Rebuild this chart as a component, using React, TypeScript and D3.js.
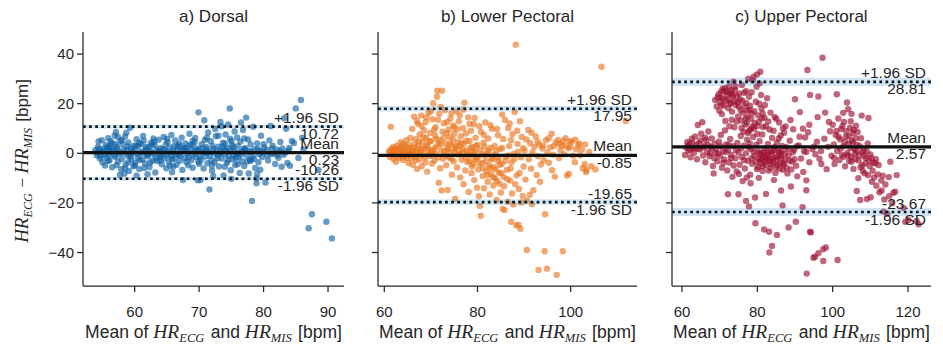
import React from "react";
import * as d3 from "d3";

// [mean of HR_ECG and HR_MIS, HR_ECG - HR_MIS]
const dorsal: [number, number][] = [
  [53.9,1.2],[54.1,-0.8],[54.3,2.6],[54.4,4.8],[54.6,-2.1],[54.8,0.4],[54.9,5.3],
  [55.0,-3.6],[55.2,1.8],[55.3,-0.5],[55.5,3.4],[55.6,-1.7],[55.8,0.9],[55.9,6.1],[55.4,-4.9],
  [56.0,2.2],[56.1,-2.8],[56.3,0.3],[56.4,4.1],[56.5,-5.6],[56.7,1.5],[56.8,-0.9],[56.9,7.2],[56.2,3.0],
  [57.0,-1.4],[57.1,8.6],[57.2,2.7],[57.4,-3.3],[57.5,0.6],[57.7,-8.7],[57.8,5.0],[57.9,-6.4],[57.3,1.9],
  [58.0,-2.3],[58.1,3.6],[58.2,0.1],[58.4,-8.2],[58.5,6.8],[58.6,-4.5],[58.7,8.3],[58.8,1.2],[58.9,-1.0],
  [59.0,4.4],[59.1,-7.1],[59.3,10.3],[59.4,2.0],[59.5,-2.6],[59.6,0.7],[59.8,-5.2],[59.9,3.1],[59.2,-0.4],
  [60.0,1.6],[60.1,-3.9],[60.3,5.7],[60.4,-0.2],[60.6,2.9],[60.7,-6.3],[60.9,0.5],[60.5,-1.8],
  [61.0,3.8],[61.2,-2.4],[61.3,7.0],[61.5,0.8],[61.6,-4.1],[61.8,1.9],[61.9,-0.7],[61.4,5.1],
  [62.0,-1.2],[62.2,2.5],[62.3,-5.5],[62.5,4.2],[62.6,0.2],[62.8,-2.9],[62.9,6.0],[62.4,1.1],
  [63.0,-0.3],[63.1,3.3],[63.2,-7.7],[63.4,1.4],[63.5,-3.1],[63.7,5.5],[63.8,0.9],[63.9,-1.6],
  [64.0,2.1],[64.2,-4.4],[64.3,0.0],[64.5,6.6],[64.6,-2.0],[64.8,3.5],[64.9,-6.0],[64.4,1.7],
  [65.0,-0.9],[65.1,4.6],[65.3,-3.5],[65.4,2.4],[65.6,-1.1],[65.7,7.4],[65.9,0.3],[65.5,-5.0],
  [66.0,1.0],[66.2,-2.2],[66.3,5.2],[66.5,-4.6],[66.6,2.8],[66.8,-0.6],[66.9,3.9],
  [67.0,-3.0],[67.2,0.7],[67.3,6.3],[67.5,-10.8],[67.6,1.8],[67.8,-1.9],[67.9,4.0],[67.4,-6.7],
  [68.0,2.3],[68.2,-0.1],[68.3,-4.8],[68.5,7.9],[68.7,1.3],[68.8,-2.7],[68.9,3.2],
  [69.0,-5.8],[69.2,0.6],[69.3,4.5],[69.5,-1.5],[69.6,2.0],[69.8,-10.9],[69.9,-3.4],[69.4,6.2],
  [69.9,16.5],[70.0,1.4],[70.2,-10.8],[70.3,-2.5],[70.4,3.7],[70.6,0.2],[70.7,-6.1],[70.8,13.3],[70.9,5.4],
  [71.0,-1.3],[71.1,2.6],[71.3,-4.0],[71.4,8.4],[71.5,0.5],[71.6,-14.6],[71.8,4.9],[71.9,-2.8],[71.2,1.6],
  [72.0,-7.0],[72.1,3.0],[72.3,0.1],[72.4,-3.7],[72.6,6.9],[72.7,1.1],[72.9,-0.8],[72.5,9.8],
  [73.0,2.7],[73.1,-5.3],[73.3,12.6],[73.4,0.4],[73.5,-2.1],[73.7,4.3],[73.8,-8.9],[73.9,1.5],
  [74.0,-0.5],[74.1,7.6],[74.3,-3.8],[74.4,2.2],[74.5,11.6],[74.6,-1.0],[74.75,18.1],[74.8,5.9],[74.9,-6.8],[74.2,0.9],
  [75.0,-10.3],[75.1,3.4],[75.2,-2.4],[75.4,1.0],[75.5,8.8],[75.6,-4.7],[75.8,0.0],[75.9,6.4],[75.3,-0.7],
  [76.0,2.9],[76.1,-1.6],[76.3,-7.9],[76.4,4.7],[76.6,0.6],[76.7,-3.2],[76.8,9.4],[76.9,1.9],
  [77.0,-5.1],[77.2,2.1],[77.3,14.4],[77.4,-0.9],[77.6,5.6],[77.7,-8.1],[77.8,0.8],[77.9,-2.6],
  [78.0,3.6],[78.2,-19.2],[78.3,-1.2],[78.4,10.7],[78.6,1.7],[78.7,-5.9],[78.9,-12.1],[78.9,-10.1],
  [79.0,4.0],[79.2,-3.6],[79.4,0.9],[79.6,7.1],[79.8,-1.5],[79.5,-6.6],
  [80.1,2.4],[80.3,-11.8],[80.5,1.3],[80.7,-2.9],[80.9,5.2],
  [81.1,11.0],[81.2,-0.4],[81.4,3.1],[81.6,0.0],[81.8,-4.3],
  [82.0,1.6],[82.3,-1.8],[82.6,4.6],[82.9,2.0],[82.8,-5.4],
  [83.2,14.1],[83.1,-0.6],[83.5,9.9],[83.7,-3.9],[83.9,1.1],
  [84.1,-5.0],[84.4,5.0],[84.7,4.2],[85.0,18.1],[85.4,-1.9],[85.8,21.5],[86.2,1.5],[86.0,6.3],
  [87.0,-30.2],[87.5,-24.6],[88.5,-6.7],[89.75,-27.6],[90.6,-34.3],
  [54.2,0.3],[54.5,1.9],[54.7,-1.1],[55.1,0.7],[55.7,2.4],[56.0,-0.6],[56.6,1.1],[57.0,3.8],[57.6,-0.2],[58.3,1.4],
  [58.9,2.8],[59.4,-1.3],[59.7,0.2],[60.2,3.0],[60.8,-2.7],[61.1,0.1],[61.7,2.6],[62.1,-0.4],[62.7,3.5],[63.3,-1.9],
  [63.6,0.6],[64.1,-0.8],[64.7,1.2],[65.2,0.5],[65.8,-2.4],[66.1,2.9],[66.4,-0.3],[66.7,1.4],[67.1,-1.0],[67.7,2.2],
  [68.1,0.9],[68.4,-1.7],[68.6,3.4],[69.1,-0.5],[69.7,1.0],[70.1,-1.4],[70.5,2.1],[71.0,0.4],[71.7,-0.9],[72.2,1.8],
  [72.8,-2.0],[73.2,0.2],[73.6,2.6],[74.0,3.9],[74.5,-2.8],[74.9,1.1],[75.3,2.5],[75.7,-1.9],[76.2,0.3],[76.5,-0.5],
  [77.1,1.3],[77.5,-3.3],[78.1,0.6],[78.5,-2.2],[79.1,1.8],[79.3,-0.4],[79.9,0.5],[80.6,-0.8],[81.3,1.9],[82.1,-0.7],
  [82.5,0.8],[83.4,0.3],[84.0,2.2],
  [55.9,-3.0],[56.3,4.9],[57.2,-4.8],[58.0,5.4],[59.0,-3.6],[60.0,-4.8],[60.7,4.3],[61.5,-5.9],[62.4,-3.7],[63.0,4.8],
  [64.0,-2.9],[65.0,5.8],[66.0,-5.3],[67.0,3.0],[68.0,-3.5],[69.0,5.1],[70.0,-4.2],[71.2,6.3],[72.0,-4.9],[73.0,7.1],
  [74.0,-5.4],[75.0,5.0],[76.0,-4.3],[77.0,6.0],[78.0,-3.0],[79.0,-8.3],[80.0,3.7],[76.5,12.4],[73.5,10.9],[72.2,-9.2],
  [65.8,-7.6],[62.0,-8.4],[60.3,-9.0],[57.4,6.6],[58.5,-6.0],
];

const lowerPectoral: [number, number][] = [
  [61.0,0.8],[61.2,-1.5],[61.4,10.7],[61.5,1.9],[61.7,-0.4],[61.9,2.6],[62.0,-2.3],[62.2,0.2],[62.4,1.4],[62.5,-3.4],
  [62.7,3.1],[62.9,-0.9],[63.0,0.6],[63.2,2.2],[63.3,-1.8],[63.5,4.5],[63.6,-0.1],[63.8,1.3],[64.0,-2.7],[64.1,3.8],
  [64.3,0.4],[64.4,-1.2],[64.6,2.9],[64.7,5.3],[64.9,-0.6],[65.0,1.7],[65.2,-3.9],[65.3,3.4],[65.5,0.1],[65.6,6.2],
  [65.8,-2.0],[65.9,1.0],
  [66.0,9.8],[66.1,-4.6],[66.3,2.4],[66.4,14.8],[66.6,-1.4],[66.7,5.7],[66.9,0.5],[67.0,-6.3],[67.2,11.9],[67.3,3.2],
  [67.5,-2.5],[67.6,7.6],[67.8,0.9],[67.9,15.2],[68.0,-5.2],[68.2,4.4],[68.3,-0.8],[68.5,9.3],[68.6,1.8],[68.8,-3.7],
  [68.9,12.6],[69.0,6.1],[69.2,-7.4],[69.3,2.7],[69.5,16.3],[69.6,-1.1],[69.8,8.2],[69.9,0.0],[70.0,4.9],[70.2,-4.1],
  [70.3,13.7],[70.5,20.2],[70.6,1.5],[70.8,-2.9],[70.9,7.1],
  [71.0,10.5],[71.1,-0.3],[71.3,22.8],[71.4,25.2],[71.5,3.6],[71.7,-11.9],[71.8,15.9],[71.9,5.2],[72.0,-6.0],[72.2,1.2],
  [72.4,25.2],[72.3,-15.0],[72.5,8.7],[72.6,-2.2],[72.8,12.1],[72.9,0.7],[73.0,17.4],[73.2,4.0],[73.3,-4.8],[73.5,2.1],
  [73.6,-14.8],[73.8,9.6],[73.9,-1.7],[74.0,6.5],[74.2,14.0],[74.3,0.3],[74.5,-8.6],[74.6,3.3],[74.8,11.2],[74.9,-3.2],
  [75.0,7.9],[75.2,-18.3],[75.3,1.9],[75.5,16.8],[75.6,-5.7],[75.8,4.6],[75.9,-0.5],
  [76.0,12.9],[76.1,2.8],[76.3,-9.7],[76.4,6.9],[76.6,-2.6],[76.7,0.4],[76.9,10.1],[77.0,-12.5],[77.2,20.4],[77.1,3.9],
  [77.4,-6.9],[77.5,8.0],[77.7,1.0],[77.8,-3.5],[78.0,14.5],[78.1,-15.6],[78.3,5.0],[78.4,-0.7],[78.6,9.1],[78.7,-8.0],
  [78.9,2.5],[79.0,-4.4],[79.2,11.7],[79.3,-10.8],[79.5,0.6],[79.6,6.3],[79.8,-2.1],[79.9,-13.9],
  [80.0,3.4],[80.2,-6.5],[80.3,-17.3],[80.5,-21.2],[80.6,1.4],[80.7,-25.2],[80.8,8.6],[81.0,-3.9],[81.1,-9.2],[81.3,4.3],
  [81.4,-14.1],[81.6,-1.0],[81.7,12.4],[81.9,-7.2],[82.0,0.2],[82.2,-11.5],[82.3,6.0],[82.5,-4.9],[82.6,-16.6],[82.8,2.2],
  [82.9,-8.3],[83.1,9.9],[83.2,-1.9],[83.4,-13.0],[83.5,-5.6],[83.7,3.0],[83.8,-10.1],[84.0,0.9],[84.1,-18.8],[84.3,-3.0],
  [84.4,7.3],[84.6,-7.8],[84.7,-12.3],[84.9,1.7],
  [85.0,-15.8],[85.2,-4.2],[85.4,-22.4],[85.5,5.8],[85.6,-9.5],[85.8,-22.9],[85.9,13.4],[86.1,-1.3],[86.3,-6.7],[86.5,-19.5],
  [86.6,10.2],[86.8,2.9],[87.0,-11.0],[87.2,-27.6],[87.3,-3.6],[87.5,7.7],[87.7,-20.6],[87.8,-0.2],[88.0,16.6],[88.2,43.8],
  [88.3,-29.0],[88.4,-8.9],[88.6,3.8],[88.8,-28.9],[88.9,-14.4],[89.2,-30.4],[89.3,-1.6],[89.5,6.6],[89.7,-17.2],[89.9,-5.3],
  [90.1,1.1],[90.3,-10.6],[90.6,-39.0],[90.9,9.4],[91.0,-2.4],[91.3,4.1],[91.5,-6.2],[91.8,0.4],[92.0,-14.9],[92.2,2.6],
  [92.5,6.8],[92.7,-8.7],[93.0,-1.2],[93.1,-47.0],[93.3,3.5],[93.6,-4.5],[93.9,1.9],[94.2,-2.8],[94.4,-39.5],[94.5,-24.6],
  [94.7,5.3],[94.9,-46.5],[95.0,0.3],[95.3,-3.8],[95.6,2.4],[95.9,7.9],[96.2,-0.6],[96.6,-9.4],[96.8,4.4],[97.0,-49.0],
  [97.3,5.4],[97.5,-1.9],[97.8,1.3],[98.1,3.1],[98.3,-39.5],[98.6,-0.4],[98.9,6.1],[99.2,-9.0],[99.5,2.0],[99.8,4.9],
  [100.2,4.7],[100.5,-1.0],[100.9,-3.6],[101.2,1.6],[101.6,3.3],[102.0,-0.8],[102.6,-6.0],[103.0,-4.4],[103.1,3.6],[103.3,-7.5],
  [103.4,-6.7],[104.0,0.5],[105.3,-6.5],[106.6,34.9],[111.8,13.0],
  [61.3,0.4],[61.8,1.1],[62.1,-0.8],[62.6,1.7],[63.1,-1.0],[63.7,2.6],[64.2,1.0],[64.8,-1.8],[65.4,2.1],[65.7,-0.6],
  [66.2,0.9],[66.5,3.6],[66.8,-2.8],[67.1,1.6],[67.4,4.8],[67.7,-0.2],[68.1,2.0],[68.4,6.6],[68.7,-1.5],[69.1,3.3],
  [69.4,0.6],[69.7,4.9],[70.1,1.2],[70.4,-0.9],[70.7,9.5],[71.0,2.4],[71.2,5.8],[71.6,-1.6],[72.1,3.7],[72.7,6.2],
  [73.1,-0.8],[73.4,8.1],[73.7,1.5],[74.1,3.9],[74.4,-2.2],[74.7,5.6],[75.1,0.9],[75.4,2.8],[75.7,9.7],[76.2,-0.2],
  [76.5,4.1],[76.8,1.8],[77.3,-1.4],[77.6,5.1],[77.9,0.1],[78.2,-3.1],[78.5,2.3],[78.8,-5.3],[79.1,0.9],[79.4,-2.6],
  [79.7,3.1],[80.1,-1.6],[80.4,-4.2],[80.9,-0.4],[81.2,-6.0],[81.5,2.7],[81.8,-3.2],[82.1,-8.8],[82.4,1.0],[82.7,-5.9],
  [83.0,-2.4],[83.3,-9.6],[83.6,-0.7],[83.9,-6.4],[84.2,-11.1],[84.5,-1.9],[84.8,-4.6],[85.1,-8.0],[85.3,2.2],[85.7,-13.3],
  [86.0,-3.0],[86.4,-10.4],[86.7,-0.9],[87.1,-6.1],[87.4,-16.2],[87.9,-2.3],[88.1,-12.5],[88.7,0.5],[89.0,-7.9],[89.4,-19.8],
  [89.8,2.1],
  [67.0,13.0],[68.0,11.0],[69.0,14.5],[70.0,17.0],[71.5,13.5],[72.1,18.7],[73.5,12.6],[74.4,16.1],[75.0,10.4],[76.2,15.3],
  [77.0,17.6],[78.3,11.9],[79.4,14.2],[80.4,10.9],[81.4,7.4],[82.8,11.3],[84.2,9.8],[85.3,15.6],[86.9,12.0],[87.2,5.3],
  [88.5,9.1],[89.1,12.9],[90.5,5.6],[91.6,8.3],[92.9,4.7],[94.1,3.0],[95.3,6.1],[96.4,2.9],[97.6,3.8],[98.4,5.0],
  [99.0,3.0],[100.0,2.6],[101.0,5.5],[101.9,3.9],[102.4,1.5],[104.4,-5.2],[99.6,-8.2],[96.0,-6.8],[93.4,-11.5],[91.2,-16.7],
  [90.6,-19.0],[91.7,-20.5],
];

const upperPectoral: [number, number][] = [
  [60.8,-0.7],[61.1,2.3],[61.4,4.6],[61.7,1.0],[62.0,3.8],[62.3,-1.6],[62.6,5.9],[62.9,2.1],[63.2,0.2],[63.5,6.8],
  [63.8,3.3],[64.0,-2.4],[64.2,11.4],[64.5,4.1],[64.8,1.5],[65.1,7.9],[65.4,12.5],[65.6,-0.9],[65.9,3.0],[66.2,-3.6],
  [66.4,5.4],[66.7,0.6],[67.0,8.8],[67.3,-1.2],[67.6,2.7],[67.9,6.0],[68.2,-5.1],[68.4,-8.1],[68.7,3.9],[68.9,0.1],
  [68.8,21.5],[69.2,18.9],[69.5,22.6],[69.7,23.8],[70.1,20.7],[70.4,24.9],[70.6,19.6],[70.9,22.1],[71.2,25.0],[71.5,26.2],
  [71.7,21.3],[72.0,23.6],[72.3,18.2],[72.5,26.9],[72.8,24.2],[73.0,20.4],[73.3,16.8],[73.5,22.9],[73.7,28.9],[74.0,25.6],
  [74.3,19.4],[74.6,23.1],[74.9,14.9],[75.1,18.8],[75.4,21.7],[75.7,13.2],[75.9,27.5],[76.2,16.4],[76.5,24.4],[76.8,11.6],
  [77.1,20.2],[77.4,14.7],[77.6,30.1],[77.9,17.6],[78.2,9.8],[78.4,13.9],[78.6,16.1],[78.8,29.4],[79.0,30.9],[79.3,12.1],
  [79.6,20.8],[79.9,31.8],[80.2,15.3],[80.4,12.7],[80.6,28.2],[80.8,32.9],[81.1,18.0],[81.5,10.6],[81.9,14.4],[82.6,22.2],
  [69.1,1.8],[69.4,-3.2],[69.8,4.7],[70.1,-1.0],[70.3,7.4],[70.6,-5.8],[70.9,0.9],[71.2,-2.5],[71.4,9.2],[71.7,3.6],
  [72.0,-6.9],[72.2,1.3],[72.2,-16.5],[72.5,-3.7],[72.8,5.8],[73.1,-0.6],[73.4,-9.5],[73.6,2.9],[73.9,10.5],[74.2,-2.0],
  [74.5,-7.3],[74.7,4.2],[75.0,-16.5],[75.0,0.4],[75.3,-4.6],[75.6,7.0],[75.9,-1.5],[76.1,-11.2],[76.4,3.1],[76.7,-6.1],
  [77.0,-19.2],[77.0,0.0],[77.3,5.5],[77.5,-3.0],[77.8,-21.4],[77.8,9.0],[78.1,-8.6],[78.3,1.7],[78.6,-4.2],[78.9,6.6],
  [79.2,-1.1],[79.4,-17.8],[79.5,-28.2],[79.7,3.4],[79.9,-6.4],[80.1,0.8],[80.4,-9.9],[80.6,4.9],[80.8,-2.8],[81.0,-0.3],
  [81.3,7.6],[81.5,-5.2],[81.8,-30.7],[81.8,1.9],[82.0,-3.5],[82.3,-16.4],[82.3,10.9],[82.5,-1.8],[82.8,3.8],[83.1,-31.6],
  [83.0,-7.0],[83.2,-40.0],[83.3,0.5],[83.6,-4.4],[83.9,-37.4],[83.9,6.2],[84.1,-2.2],[84.4,-10.8],[84.6,1.2],[84.9,-5.5],
  [85.2,-32.9],[85.2,4.4],[85.5,-1.3],[85.8,12.4],[86.0,-3.9],[86.3,-15.0],[86.5,0.7],[86.7,-21.0],[86.8,-6.6],[87.1,8.3],
  [87.4,-2.6],[87.7,2.5],[88.0,-8.1],[88.3,-29.9],[88.3,-0.9],[88.6,5.1],[88.9,-13.4],[89.2,-3.3],[89.5,9.7],[89.8,1.4],
  [90.2,-27.6],[90.0,21.8],[90.3,-5.0],
  [80.3,-1.9],[80.9,-4.0],[81.6,0.2],[82.1,-2.4],[82.7,-0.7],[83.4,-3.1],[84.0,0.9],[84.7,-1.6],[85.3,-4.7],[85.9,0.3],
  [86.4,-2.0],[87.0,-4.1],
  [76.3,8.7],[77.2,12.3],[78.0,4.0],[79.1,10.0],[80.0,7.8],[81.2,14.1],[82.9,12.8],[84.3,9.1],[85.0,13.9],[86.2,7.2],
  [87.5,10.8],[88.8,13.4],
  [90.6,-9.3],[91.0,3.2],[91.3,16.6],[91.6,-2.1],[92.0,-21.7],[92.2,-7.5],[92.4,0.8],[92.7,6.4],[93.0,-10.9],[93.0,-14.9],
  [93.0,0.5],[93.1,-48.5],[93.3,33.6],[93.5,8.5],[93.8,-3.6],[94.0,23.5],[94.0,-31.6],[94.2,-31.9],[94.6,1.7],[94.9,-42.1],
  [95.3,-41.7],[95.4,-0.4],[95.8,4.7],[96.2,22.9],[96.2,-40.3],[96.5,-2.2],[96.9,0.9],[97.3,38.5],[97.5,-38.7],[97.5,-43.4],
  [97.8,5.9],[98.2,-38.0],[98.4,-6.4],[98.8,2.6],[99.3,8.9],[99.7,-1.0],
  [100.0,11.5],[100.3,3.6],[100.5,-4.3],[100.8,7.4],[101.1,23.8],[101.3,-43.0],[101.2,0.9],[101.5,14.0],[101.8,-2.7],[102.0,5.6],
  [102.3,9.8],[102.5,-0.6],[102.8,2.8],[103.0,12.6],[103.3,-5.2],[103.5,6.7],[103.8,20.5],[103.9,0.1],[104.2,3.9],[104.4,-3.0],
  [104.6,10.3],[104.9,-1.4],[105.1,5.1],[105.3,8.2],[105.5,-6.3],[105.8,1.7],[106.0,-2.3],[106.2,11.1],[106.4,-15.2],[106.5,3.4],
  [106.8,-10.0],[107.0,-0.9],[107.3,-18.8],[107.5,6.1],[107.7,15.2],[107.9,-4.8],[108.2,1.1],[108.5,-8.1],[108.8,-1.9],[109.1,-18.4],
  [109.3,4.0],[109.5,14.2],[109.7,-2.9],[110.1,-17.7],[110.0,-0.5],[110.4,-11.5],[110.8,-3.8],
  [111.3,-4.0],[111.6,-13.1],[112.0,-8.5],[112.4,-15.7],[112.9,-11.0],[113.5,-23.5],[113.7,-18.6],[114.5,-24.4],[114.9,-9.6],
  [115.3,-3.4],[115.8,-20.1],[116.1,-15.9],[116.6,-15.5],[117.0,-8.8],[118.8,-22.0],[119.3,-27.6],[120.1,-26.9],[122.3,-27.3],[122.8,-28.6],
  [78.5,-2.0],[79.0,0.6],[79.6,-3.5],[80.2,-5.5],[80.7,0.1],[81.1,-2.0],[81.4,-7.1],[81.9,-1.0],[82.2,-4.7],[82.6,1.0],
  [83.0,-2.5],[83.5,-6.0],[83.8,-0.3],[84.2,-3.6],[84.5,2.6],[84.8,-7.9],[85.1,-2.7],[85.6,0.8],[85.9,-6.2],[86.2,-1.1],
  [86.6,3.0],[86.9,-4.5],[87.3,-0.2],[87.8,-5.8],[88.2,1.7],[88.5,-3.0],[89.0,-6.5],[89.4,0.4],[89.9,-2.4],[90.5,2.9],
  [70.3,22.5],[70.8,26.0],[71.1,19.2],[71.9,24.8],[72.2,21.7],[72.7,19.9],[73.1,25.4],[73.4,23.7],[73.9,21.0],[74.2,26.9],
  [74.8,20.6],[75.2,24.1],[75.6,17.4],[76.0,21.2],[76.6,19.0],[77.0,25.0],[77.3,17.2],[77.8,22.8],[78.1,19.1],[78.5,24.6],
  [79.2,17.0],[79.8,26.8],[80.5,20.0],[81.0,23.5],[81.4,16.1],[82.0,19.5],[80.0,11.0],[78.7,10.7],[77.5,8.2],[76.9,14.0],
  [75.8,10.2],[74.5,12.8],[73.2,13.5],[72.6,10.9],[71.5,13.0],[70.6,15.8],[69.9,17.2],[83.5,16.4],[84.6,14.6],[83.2,9.6],
  [85.7,6.0],[86.8,10.1],
  [61.6,3.2],[62.2,1.4],[62.8,4.3],[63.4,2.0],[64.3,1.8],[64.9,5.2],[65.7,2.4],[66.1,6.3],[66.9,3.4],[67.5,0.0],
  [68.0,2.1],[68.6,-2.0],[69.6,-0.1],[70.2,2.9],[71.0,-3.8],[71.6,0.5],[72.4,3.4],[73.0,-1.9],[73.7,-4.9],[74.4,1.2],
  [75.1,-8.3],[75.7,2.0],[76.5,-2.8],[77.2,-9.8],[77.7,2.5],[78.2,-12.1],
  [101.6,6.6],[102.1,1.9],[102.6,11.0],[102.9,-1.4],[103.2,4.6],[103.6,8.9],[104.0,-0.8],[104.3,6.9],[104.7,2.1],[104.8,12.9],
  [105.0,-3.4],[105.4,4.4],[105.6,9.4],[105.9,-0.1],[106.1,6.1],[106.3,0.9],[106.6,8.6],[106.9,-2.9],[107.2,2.9],[107.4,-5.6],
  [107.8,0.4],[108.0,-7.1],[108.4,-1.1],[108.7,-4.0],[109.0,0.8],[109.4,-8.8],[109.8,-5.1],[110.3,-1.9],[110.6,-7.0],[111.0,-9.7],
  [111.5,-2.4],[112.2,-4.7],[113.0,-15.0],[113.3,-9.0],[114.0,-12.6],[115.0,-17.3],[105.0,15.9],[104.1,17.8],[102.8,16.3],[101.0,9.0],
  [100.4,-1.9],[99.0,12.6],[97.0,-4.3],[95.0,2.7],[93.8,11.5],[92.1,9.9],[91.2,6.7],[96.0,14.6],[98.0,16.4],
];

const titles = ["a) Dorsal", "b) Lower Pectoral", "c) Upper Pectoral"];
const meanDiff = [0.23, -0.85, 2.57];
const upperLimit = [10.72, 17.95, 28.81];
const lowerLimit = [-10.26, -19.65, -23.67];
const limitCI = [0.7, 1.1, 1.6];
const xTicks = [[60, 70, 80, 90], [60, 80, 100], [60, 80, 100, 120]];
const yTicks = [-40, -20, 0, 20, 40];
const series = [dorsal, lowerPectoral, upperPectoral];

// layout
const W = 943, H = 347;
const TOP = 32, BOTTOM = 286;
const panelX: [number, number][] = [[83, 344], [378, 637], [672, 931]];
const xDomains: [number, number][] = [[51.98, 92.48], [58.65, 114.23], [57.35, 126.1]];
const yDomain: [number, number] = [-53.5, 48.9];
const colors = ["#0f63a6", "#e9751d", "#9c1030"];
const TEXT = "#262626";
const SANS = "'Liberation Sans', Arial, Helvetica, sans-serif";
const SERIF = "'Liberation Serif', 'Times New Roman', serif";

const fmtTick = (v: number) => (v < 0 ? "\u2212" + Math.abs(v) : String(v));

function MathHR({ sub, size }: { sub: string; size: number }) {
  return (
    <>
      <tspan fontFamily={SERIF} fontStyle="italic" fontSize={size + 2}>HR</tspan>
      <tspan fontFamily={SERIF} fontStyle="italic" fontSize={size * 0.72} dy={4}>{sub}</tspan>
      <tspan dy={-4}>{"\u200a"}</tspan>
    </>
  );
}

function Panel({ i }: { i: number }) {
  const [x0, x1] = panelX[i];
  const x = d3.scaleLinear().domain(xDomains[i]).range([x0, x1]);
  const y = d3.scaleLinear().domain(yDomain).range([BOTTOM, TOP]);
  const cx = (x0 + x1) / 2;
  const tx = x1 - 5;
  const lines = [
    { v: upperLimit[i], top: "+1.96 SD", bot: upperLimit[i].toFixed(2) },
    { v: lowerLimit[i], top: lowerLimit[i].toFixed(2), bot: "-1.96 SD" },
  ];
  return (
    <g>
      {series[i].map(([m, d], k) => (
        <circle key={k} cx={x(m)} cy={y(d)} r={3.2} fill={colors[i]} fillOpacity={0.64} />
      ))}
      {lines.map((l, k) => (
        <g key={k}>
          <line x1={x0} x2={x1} y1={y(l.v)} y2={y(l.v)} stroke="#000" strokeWidth={2.7} strokeDasharray="2.7 3.4" />
          <rect x={x0} width={x1 - x0} y={y(l.v + limitCI[i])} height={y(l.v - limitCI[i]) - y(l.v + limitCI[i])} fill="#1f77b4" fillOpacity={0.2} />
        </g>
      ))}
      <line x1={x0} x2={x1} y1={y(meanDiff[i])} y2={y(meanDiff[i])} stroke="#111" strokeWidth={3.2} />
      <g fontFamily={SANS} fontSize={15.5} fill={TEXT} textAnchor="end">
        <text x={tx} y={y(upperLimit[i]) - 3.5}>{lines[0].top}</text>
        <text x={tx} y={y(upperLimit[i]) + 12.5}>{lines[0].bot}</text>
        <text x={tx} y={y(meanDiff[i]) - 4}>Mean</text>
        <text x={tx} y={y(meanDiff[i]) + 12.5}>{meanDiff[i].toFixed(2)}</text>
        <text x={tx} y={y(lowerLimit[i]) - 3.5}>{lines[1].top}</text>
        <text x={tx} y={y(lowerLimit[i]) + 12.5}>{lines[1].bot}</text>
      </g>
      <line x1={x0} x2={x0} y1={TOP} y2={BOTTOM} stroke={TEXT} strokeWidth={1.25} />
      <line x1={x0} x2={x1} y1={BOTTOM} y2={BOTTOM} stroke={TEXT} strokeWidth={1.25} />
      {yTicks.map((t) => (
        <g key={t}>
          <line x1={x0 - 6} x2={x0} y1={y(t)} y2={y(t)} stroke={TEXT} strokeWidth={1.25} />
          {i === 0 && (
            <text x={x0 - 9} y={y(t) + 5} textAnchor="end" fontFamily={SANS} fontSize={15} fill={TEXT}>
              {fmtTick(t)}
            </text>
          )}
        </g>
      ))}
      {xTicks[i].map((t) => (
        <g key={t}>
          <line x1={x(t)} x2={x(t)} y1={BOTTOM} y2={BOTTOM + 6} stroke={TEXT} strokeWidth={1.25} />
          <text x={x(t)} y={BOTTOM + 31} textAnchor="middle" fontFamily={SANS} fontSize={15} fill={TEXT}>
            {fmtTick(t)}
          </text>
        </g>
      ))}
      <text x={cx} y={22} textAnchor="middle" fontFamily={SANS} fontSize={17} fill={TEXT}>
        {titles[i]}
      </text>
      <text x={cx} y={338} textAnchor="middle" fontFamily={SANS} fontSize={17.5} fill={TEXT}>
        <tspan>Mean of </tspan>
        <MathHR sub="ECG" size={17.5} />
        <tspan> and </tspan>
        <MathHR sub="MIS" size={17.5} />
        <tspan> [bpm]</tspan>
      </text>
    </g>
  );
}

export default function App() {
  return (
    <svg width={W} height={H} style={{ position: "absolute", left: 0, top: 0, background: "#fff" }}>
      <rect width={W} height={H} fill="#fff" />
      {[0, 1, 2].map((i) => (
        <Panel key={i} i={i} />
      ))}
      <text transform="translate(28,161) rotate(-90)" textAnchor="middle" fontFamily={SANS} fontSize={17} fill={TEXT}>
        <MathHR sub="ECG" size={17} />
        <tspan fontFamily={SERIF}> {"\u2212"} </tspan>
        <MathHR sub="MIS" size={17} />
        <tspan> [bpm]</tspan>
      </text>
    </svg>
  );
}
